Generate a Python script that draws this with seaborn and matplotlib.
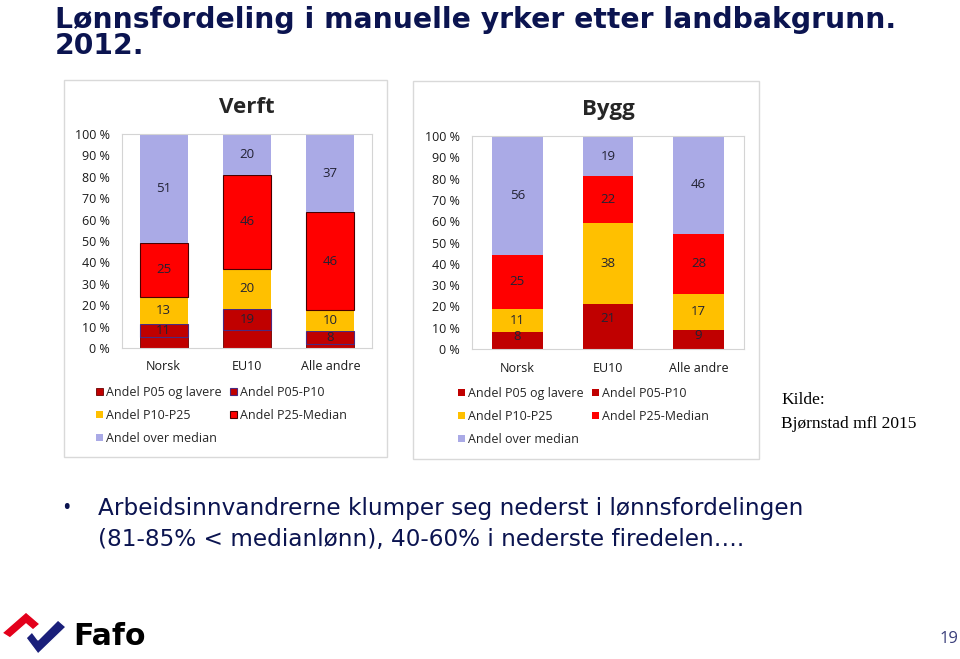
"""
Lønnsfordeling i manuelle yrker etter landbakgrunn, 2012.

Two 100 % stacked bar charts (Verft, Bygg) on a Fafo slide.
"""

import matplotlib
matplotlib.use("Agg")

import matplotlib.pyplot as plt
import numpy as np
import pandas as pd
import seaborn as sns
from matplotlib.patches import Patch, Polygon, Rectangle


FIG_W: int = 960
FIG_H: int = 659

KATEGORIER: list[str] = ["Norsk", "EU10", "Alle andre"]

SERIER: list[str] = [
    "Andel P05 og lavere",
    "Andel P05-P10",
    "Andel P10-P25",
    "Andel P25-Median",
    "Andel over median",
]

# Verft (labels as printed; "under P10" covers the two darkest segments)
VERFT_P05_OG_LAVERE: list[float] = [5, 9, 2]
VERFT_UNDER_P10: list[float] = [11, 19, 8]
VERFT_P10_P25: list[float] = [13, 20, 10]
VERFT_P25_MEDIAN: list[float] = [25, 46, 46]
VERFT_OVER_MEDIAN: list[float] = [51, 20, 37]

# Bygg
BYGG_P05_OG_LAVERE: list[float] = [4, 8, 4]
BYGG_UNDER_P10: list[float] = [8, 21, 9]
BYGG_P10_P25: list[float] = [11, 38, 17]
BYGG_P25_MEDIAN: list[float] = [25, 22, 28]
BYGG_OVER_MEDIAN: list[float] = [56, 19, 46]

Y_TICKS: list[int] = [0, 10, 20, 30, 40, 50, 60, 70, 80, 90, 100]

FARGER: dict[str, str] = {
    "Andel P05 og lavere": "#C00000",
    "Andel P05-P10": "#C00000",
    "Andel P10-P25": "#FFC000",
    "Andel P25-Median": "#FF0000",
    "Andel over median": "#AAAAE6",
}

NAVY = "#0B1450"
FONT = "Open Sans"


def px_rect(left: float, top: float, right: float, bottom: float) -> list[float]:
    """Convert a pixel box to figure fractions."""
    return [
        left / FIG_W,
        1 - bottom / FIG_H,
        (right - left) / FIG_W,
        (bottom - top) / FIG_H,
    ]


def build_frame(
    p05: list[float],
    under_p10: list[float],
    p10_p25: list[float],
    p25_med: list[float],
    over_med: list[float],
) -> pd.DataFrame:
    """Long table of normalised shares (Excel 100 % stacked style)."""
    p05_p10 = [u - p for u, p in zip(under_p10, p05)]
    verdier = [p05, p05_p10, p10_p25, p25_med, over_med]
    etiketter = [
        ["", "", ""],
        [f"{v:g}" for v in under_p10],
        [f"{v:g}" for v in p10_p25],
        [f"{v:g}" for v in p25_med],
        [f"{v:g}" for v in over_med],
    ]
    totals = np.sum(verdier, axis=0)
    rows = []
    for serie, vals, labs in zip(SERIER, verdier, etiketter):
        for i, kat in enumerate(KATEGORIER):
            rows.append({
                "kategori": kat,
                "serie": serie,
                "andel": vals[i] / totals[i] * 100,
                "etikett": labs[i],
            })
    return pd.DataFrame(rows)


def draw_panel(
    fig: plt.Figure,
    rect: list[float],
    data: pd.DataFrame,
    tittel: str,
    edges: dict[str, tuple[str, float]],
    bar_width: float,
) -> None:
    """Draw one stacked bar chart."""
    ax = fig.add_axes(rect)
    bottom = np.zeros(len(KATEGORIER))
    for serie in SERIER:
        sub = data[data["serie"] == serie].set_index("kategori").loc[KATEGORIER]
        ec, lw = edges.get(serie, ("none", 0))
        sns.barplot(
            x=KATEGORIER,
            y=sub["andel"].values,
            order=KATEGORIER,
            color=FARGER[serie],
            saturation=1,
            width=bar_width,
            bottom=bottom,
            edgecolor=ec,
            linewidth=lw,
            errorbar=None,
            ax=ax,
        )
        for i, (andel, lab) in enumerate(zip(sub["andel"], sub["etikett"])):
            if lab:
                ax.text(
                    i, bottom[i] + andel / 2, lab,
                    ha="center", va="center", fontsize=9.5,
                    color="#222233", family=FONT,
                )
        bottom = bottom + sub["andel"].values

    ax.set_xlim(-0.5, 2.5)
    ax.set_ylim(0, 100)
    ax.set_yticks(Y_TICKS)
    ax.set_yticklabels([f"{t} %" for t in Y_TICKS], family=FONT, fontsize=9)
    ax.set_xticks(range(3))
    ax.set_xticklabels(KATEGORIER, family=FONT, fontsize=9)
    ax.tick_params(axis="y", length=0, pad=8.5, colors="#1a1a1a")
    ax.tick_params(axis="x", length=0, pad=9, colors="#1a1a1a")
    ax.set_xlabel("")
    ax.set_ylabel("")
    ax.grid(False)
    for sp in ax.spines.values():
        sp.set_visible(True)
        sp.set_color("#D4D4D4")
        sp.set_linewidth(0.8)
    ax.set_title(tittel, fontsize=16, fontweight="bold", family=FONT, pad=15)


def add_legend(fig: plt.Figure, x: float, y: float, edges: dict) -> None:
    """Legend in two columns below a panel."""
    order = [SERIER[0], SERIER[2], SERIER[4], SERIER[1], SERIER[3]]
    handles = []
    for s in order:
        ec, lw = edges.get(s, ("none", 0))
        handles.append(Patch(facecolor=FARGER[s], edgecolor=ec, linewidth=lw))
    fig.legend(
        handles, order,
        ncol=2,
        loc="upper left",
        bbox_to_anchor=(x / FIG_W, 1 - y / FIG_H),
        frameon=False,
        borderpad=0,
        borderaxespad=0,
        handlelength=0.55,
        handleheight=0.55,
        handletextpad=0.25,
        columnspacing=0.7,
        labelspacing=0.8,
        prop={"family": FONT, "size": 9},
    )


def draw_slide(fig: plt.Figure) -> None:
    """Title, boxes, bullet text, source, logo, page number."""
    ov = fig.add_axes([0, 0, 1, 1], zorder=-1)
    ov.set_xlim(0, FIG_W)
    ov.set_ylim(FIG_H, 0)
    ov.axis("off")

    ov.text(55, 28, "Lønnsfordeling i manuelle yrker etter landbakgrunn.",
            fontsize=20.3, fontweight="bold", color=NAVY,
            family="DejaVu Sans", va="baseline")
    ov.text(55, 54, "2012.", fontsize=20.3, fontweight="bold", color=NAVY,
            family="DejaVu Sans", va="baseline")

    for box in [(64, 80, 387, 457), (413, 81, 759, 459)]:
        ov.add_patch(Rectangle((box[0], box[1]), box[2] - box[0],
                               box[3] - box[1], fill=False,
                               edgecolor="#D9D9D9", linewidth=1))

    ov.text(781, 404, "Kilde:", fontsize=12.5, family="Liberation Serif",
            va="baseline", color="black")
    ov.text(781, 428, "Bjørnstad mfl 2015", fontsize=12.5,
            family="Liberation Serif", va="baseline", color="black")

    ov.text(62, 515, "•", fontsize=16.5, color=NAVY, family=FONT,
            va="baseline")
    ov.text(98, 515,
            "Arbeidsinnvandrerne klumper seg nederst i lønnsfordelingen",
            fontsize=16.7, color=NAVY, family="DejaVu Sans", va="baseline")
    ov.text(98, 546, "(81-85% < medianlønn), 40-60% i nederste firedelen….",
            fontsize=16.7, color=NAVY, family="DejaVu Sans", va="baseline")

    red = [(2, 633), (26, 612), (40, 624), (33, 630), (26, 624), (10, 638)]
    navy = [(26, 638), (38, 654), (66, 627), (58, 620), (38, 640), (32, 632)]
    ov.add_patch(Polygon(red, closed=True, facecolor="#E3001B"))
    ov.add_patch(Polygon(navy, closed=True, facecolor="#1A1F7A"))
    ov.text(73, 645, "Fafo", fontsize=21.5, fontweight="bold",
            family="DejaVu Sans", color="black", va="baseline")

    ov.text(958, 643, "19", fontsize=12, color="#3A3F7B", family=FONT,
            ha="right", va="baseline")


def main() -> None:
    """Build the slide and save it."""
    sns.set_theme(style="white")
    plt.rcParams["font.family"] = [FONT, "DejaVu Sans"]

    fig = plt.figure(figsize=(FIG_W / 100, FIG_H / 100), dpi=100)
    fig.patch.set_facecolor("white")

    verft = build_frame(VERFT_P05_OG_LAVERE, VERFT_UNDER_P10, VERFT_P10_P25,
                        VERFT_P25_MEDIAN, VERFT_OVER_MEDIAN)
    bygg = build_frame(BYGG_P05_OG_LAVERE, BYGG_UNDER_P10, BYGG_P10_P25,
                       BYGG_P25_MEDIAN, BYGG_OVER_MEDIAN)

    verft_edges = {
        "Andel P05 og lavere": ("#6B0000", 0.6),
        "Andel P05-P10": ("#4A2A80", 0.8),
        "Andel P25-Median": ("#4A0000", 0.8),
    }
    bygg_edges: dict = {}

    draw_panel(fig, px_rect(122, 134, 372, 348), verft, "Verft",
               verft_edges, 0.58)
    draw_panel(fig, px_rect(472, 136, 744, 349), bygg, "Bygg",
               bygg_edges, 0.56)

    add_legend(fig, 96, 386, verft_edges)
    add_legend(fig, 458, 387, bygg_edges)

    draw_slide(fig)

    fig.savefig("out.png", dpi=100)


if __name__ == "__main__":
    main()
